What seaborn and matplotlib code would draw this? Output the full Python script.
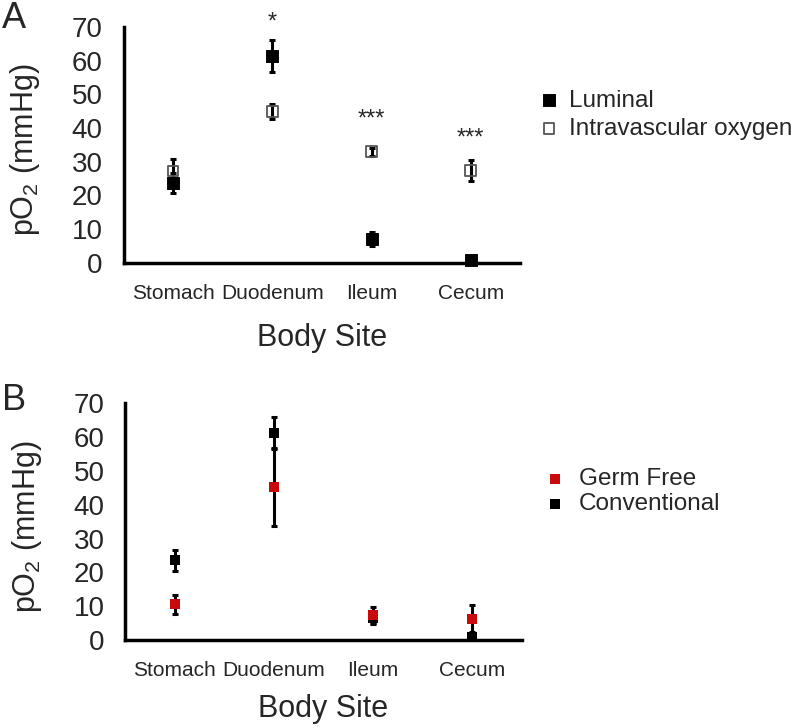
import matplotlib.pyplot as plt
import seaborn as sns
import pandas as pd

sites = ["Stomach", "Duodenum", "Ileum", "Cecum"]

# panel A
luminal = [23.8, 61.4, 7.0, 0.9]
luminal_err = [3.0, 4.8, 2.0, 0.5]
intravascular = [27.2, 44.9, 33.0, 27.4]
intravascular_err = [3.6, 2.3, 1.2, 3.1]
stars = ["", "*", "***", "***"]
star_y = [None, 71.3, 42.6, 36.8]

# panel B
germ_free = [10.5, 45.3, 7.3, 6.2]
germ_free_err = [2.7, 11.5, 2.5, 4.0]
conventional = [23.5, 61.2, 6.6, 0.9]
conventional_err = [3.0, 4.8, 1.5, 0.5]

RED = "#c80a0a"

sns.set_style("white")
plt.rcParams["font.family"] = ["Liberation Sans", "DejaVu Sans"]
plt.rcParams["mathtext.fontset"] = "custom"
plt.rcParams["mathtext.rm"] = "Liberation Sans"


def style_axes(ax, xlabelpad):
    ax.set_xlim(-0.5, 3.5)
    ax.set_ylim(0, 70)
    ax.set_yticks(range(0, 71, 10))
    ax.set_xticks(range(4))
    ax.set_xticklabels(sites, fontsize=15)
    ax.set_xticks([-0.5, 0.5, 1.5, 2.5, 3.5], minor=True)
    ax.tick_params(axis="x", which="major", length=0, pad=15)
    ax.tick_params(axis="x", which="minor", length=5, width=2.5, direction="out")
    ax.tick_params(axis="y", length=5, width=2.5, direction="out", labelsize=20, pad=10)
    for s in ["top", "right"]:
        ax.spines[s].set_visible(False)
    for s in ["left", "bottom"]:
        ax.spines[s].set_linewidth(2.5)
        ax.spines[s].set_color("black")
    ax.set_xlabel("Body Site", fontsize=22, labelpad=xlabelpad)
    ax.set_ylabel("pO$_2$ (mmHg)", fontsize=22)
    ax.yaxis.set_label_coords(-0.205, 0.48)


fig = plt.figure(figsize=(7.93, 7.28), dpi=100)
ax1 = fig.add_axes([0.156, 0.639, 0.500, 0.324])
ax2 = fig.add_axes([0.158, 0.121, 0.500, 0.325])

df_a = pd.DataFrame({"site": sites, "Luminal": luminal, "Intra": intravascular})
xpos = list(range(len(sites)))

ax1.errorbar(xpos, intravascular, yerr=intravascular_err, fmt="none", ecolor="black",
             elinewidth=2.2, capsize=2.5, capthick=2.2, zorder=2)
ax1.errorbar(xpos, luminal, yerr=luminal_err, fmt="none", ecolor="black",
             elinewidth=2.2, capsize=2.5, capthick=2.2, zorder=2)
sns.scatterplot(data=df_a, x="site", y="Luminal", ax=ax1, marker="s", s=70,
                color="black", edgecolor="black", label="Luminal", zorder=3, clip_on=False)
sns.scatterplot(data=df_a, x="site", y="Intra", ax=ax1, marker="s", s=55,
                facecolor="none", edgecolor="#555555", linewidth=1.3,
                label="Intravascular oxygen", zorder=4, clip_on=False)
for i, t in enumerate(stars):
    if t:
        ax1.text(i, star_y[i], t, ha="center", va="center", fontsize=17, clip_on=False)
style_axes(ax1, 15)
ax1.legend(loc="upper left", bbox_to_anchor=(0.665, 0.890), bbox_transform=fig.transFigure,
           frameon=False, fontsize=17.5, handletextpad=0.3, labelspacing=0.25,
           borderaxespad=0, handlelength=1.0)

df_b = pd.DataFrame({"site": sites, "GF": germ_free, "Conv": conventional})
ax2.errorbar(xpos, conventional, yerr=conventional_err, fmt="none", ecolor="black",
             elinewidth=2.2, capsize=2.5, capthick=2.2, zorder=2)
ax2.errorbar(xpos, germ_free, yerr=germ_free_err, fmt="none", ecolor="black",
             elinewidth=2.2, capsize=2.5, capthick=2.2, zorder=2)
sns.scatterplot(data=df_b, x="site", y="Conv", ax=ax2, marker="s", s=60,
                color="black", edgecolor="black", linewidth=0, label="Conventional",
                zorder=3, clip_on=False)
sns.scatterplot(data=df_b, x="site", y="GF", ax=ax2, marker="s", s=60,
                color=RED, edgecolor=RED, linewidth=0, label="Germ Free",
                zorder=4, clip_on=False)
style_axes(ax2, 10)
h, l = ax2.get_legend_handles_labels()
ax2.legend(h[::-1], l[::-1], loc="upper left", bbox_to_anchor=(0.672, 0.370),
           bbox_transform=fig.transFigure, frameon=False, fontsize=17.5,
           handletextpad=0.5, labelspacing=0.12, borderaxespad=0, handlelength=1.0,
           markerscale=0.9)

fig.text(0.003, 0.975, "A", fontsize=26, va="center", ha="left")
fig.text(0.003, 0.45, "B", fontsize=26, va="center", ha="left")

plt.savefig("out.png", dpi=100)
plt.close()
